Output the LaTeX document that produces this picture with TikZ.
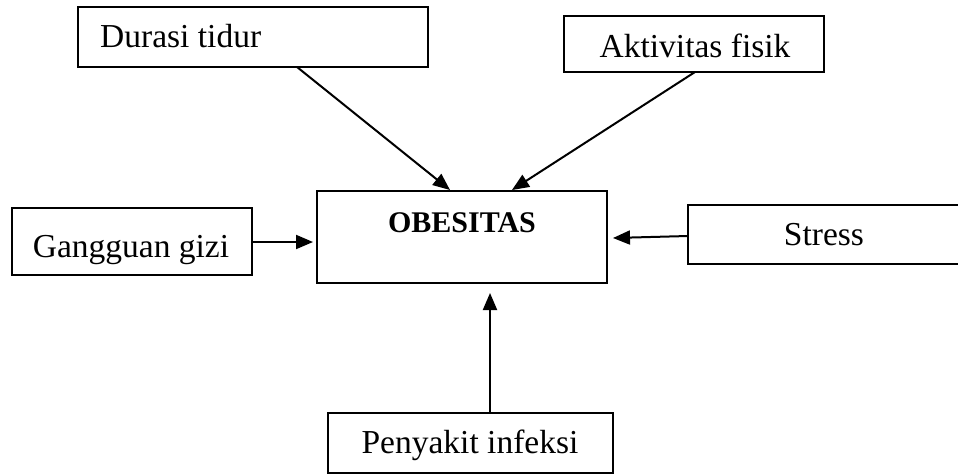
\documentclass[tikz,border=0pt]{standalone}
\usepackage{fontspec}
\setmainfont{Liberation Serif}
\usetikzlibrary{arrows.meta,calc}
\begin{document}
\begin{tikzpicture}[x=1pt,y=-1pt,
  box/.style={draw=black,line width=1.6pt,rectangle,inner sep=0pt,outer sep=0pt},
  txt/.style={inner sep=0pt,font=\fontsize{33.5}{40}\selectfont},
  btxt/.style={inner sep=0pt,font=\fontsize{30}{36}\selectfont\bfseries},
  conn/.style={line width=2pt,-{Triangle[length=17pt,width=14pt]}}]
\useasboundingbox (0,0) rectangle (958,474);
% boxes
\node[box,minimum width=350pt,minimum height=60pt] (dur) at (253,37) {};
\node[box,minimum width=260pt,minimum height=56pt] (akt) at (694,44) {};
\node[box,minimum width=240pt,minimum height=67pt] (gan) at (132,241.5) {};
\node[box,minimum width=290pt,minimum height=92pt] (obe) at (462,237) {};
\node[box,minimum width=277pt,minimum height=59pt] (str) at (826.5,234.5) {};
\node[box,minimum width=285pt,minimum height=60pt] (pen) at (470.5,443) {};
% texts
\node[txt,anchor=base west] (durT) at (100,47) {Durasi tidur};
\node[txt,anchor=base] (aktT) at (695,57) {Aktivitas fisik};
\node[txt,anchor=base] (ganT) at (131,257) {Gangguan gizi};
\node[btxt,anchor=base] (obeT) at (462,232) {OBESITAS};
\node[txt,anchor=base] (strT) at (824,245) {Stress};
\node[txt,anchor=base] (penT) at (470,453) {Penyakit infeksi};
% connectors
\draw[conn] ($(dur.south)+(44,0)$) -- ($(obe.north)+(-12,-1)$);
\draw[conn] ($(akt.south)+(1,0)$) -- ($(obe.north)+(50,-1)$);
\draw[conn] ($(gan.east)+(0,0.5)$) -- ($(obe.west)+(-4,5)$);
\draw[conn] ($(str.west)+(0,1.5)$) -- ($(obe.east)+(6,1)$);
\draw[conn] ($(pen.north)+(19.5,0)$) -- ($(obe.south)+(28,10)$);
\end{tikzpicture}
\end{document}
